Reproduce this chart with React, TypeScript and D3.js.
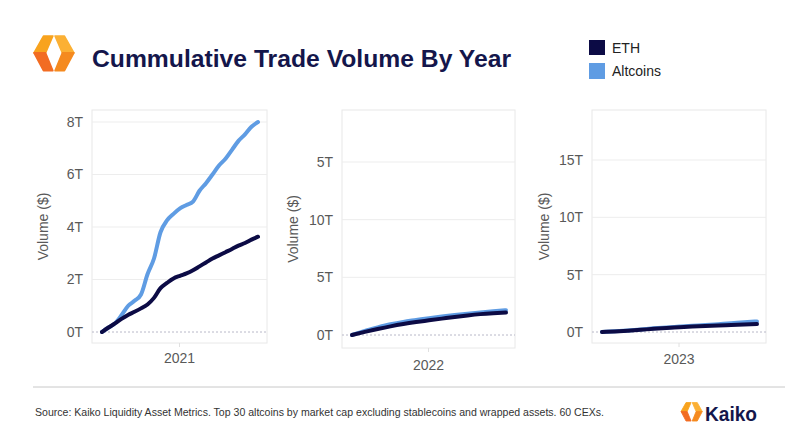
import React from "react";
import * as d3 from "d3";

// ---- Data (T = trillions USD, cumulative) ----
const years = ["2021", "2022", "2023"];
const seriesNames = ["ETH", "Altcoins"];

// 2021: semi-monthly samples
const alt2021 = [0, 0.17, 0.33, 0.64, 0.99, 1.19, 1.43, 2.2, 2.8, 3.8, 4.25, 4.5, 4.71, 4.84, 4.97, 5.38, 5.67, 6.0, 6.34, 6.6, 6.94, 7.28, 7.53, 7.82, 8.0];
const eth2021 = [0, 0.17, 0.33, 0.5, 0.65, 0.77, 0.9, 1.05, 1.3, 1.67, 1.87, 2.04, 2.14, 2.23, 2.35, 2.5, 2.65, 2.8, 2.92, 3.04, 3.16, 3.29, 3.39, 3.52, 3.63];
// 2022: monthly samples
const alt2022 = [0, 0.36, 0.66, 0.93, 1.14, 1.3, 1.46, 1.6, 1.73, 1.85, 1.96, 2.06, 2.15];
const eth2022 = [0, 0.27, 0.52, 0.75, 0.95, 1.12, 1.27, 1.42, 1.57, 1.7, 1.81, 1.89, 1.95];
// 2023: monthly samples
const alt2023 = [0, 0.06, 0.13, 0.22, 0.32, 0.4, 0.47, 0.54, 0.6, 0.68, 0.76, 0.85, 0.92];
const eth2023 = [0, 0.05, 0.11, 0.19, 0.28, 0.35, 0.41, 0.47, 0.52, 0.57, 0.61, 0.65, 0.7];

// tick values and labels per panel
const ticks2021 = [0, 2, 4, 6, 8];
const tickLabels2021 = ["0T", "2T", "4T", "6T", "8T"];
const ticks2022 = [0, 5, 10, 15];
const tickLabels2022 = ["0T", "5T", "10T", "5T"];
const ticks2023 = [0, 5, 10, 15];
const tickLabels2023 = ["0T", "5T", "10T", "15T"];

const title = "Cummulative Trade Volume By Year";
const source =
  "Source: Kaiko Liquidity Asset Metrics. Top 30 altcoins by market cap excluding stablecoins and wrapped assets. 60 CEXs.";

// ---- Styles ----
const ETH_COLOR = "#0c0b45";
const ALT_COLOR = "#5f9ce3";
const NAVY = "#14164b";
const FONT = "'Liberation Sans', Arial, Helvetica, sans-serif";

type PanelCfg = {
  year: string;
  eth: number[];
  alt: number[];
  ticks: number[];
  labels: string[];
  left: number;
  right: number;
  top: number;
  bottom: number;
  zeroY: number;
  topVal: number;
  topY: number;
  yLabelX: number;
  xLabelY: number;
};

const panels: PanelCfg[] = [
  { year: years[0], eth: eth2021, alt: alt2021, ticks: ticks2021, labels: tickLabels2021, left: 92, right: 267, top: 110, bottom: 343, zeroY: 332, topVal: 8, topY: 122, yLabelX: 48, xLabelY: 363 },
  { year: years[1], eth: eth2022, alt: alt2022, ticks: ticks2022, labels: tickLabels2022, left: 342, right: 515, top: 110, bottom: 348, zeroY: 335, topVal: 15, topY: 162, yLabelX: 298, xLabelY: 370 },
  { year: years[2], eth: eth2023, alt: alt2023, ticks: ticks2023, labels: tickLabels2023, left: 592, right: 766, top: 110, bottom: 343, zeroY: 332, topVal: 15, topY: 160, yLabelX: 549, xLabelY: 364 },
];

function Panel({ p }: { p: PanelCfg }) {
  const x = d3.scaleLinear().domain([0, p.eth.length - 1]).range([p.left + 10, p.right - 9]);
  const y = d3.scaleLinear().domain([0, p.topVal]).range([p.zeroY, p.topY]);
  const line = d3
    .line<number>()
    .x((_, i) => x(i))
    .y((d) => y(d))
    .curve(d3.curveMonotoneX);
  const midX = (p.left + p.right) / 2;
  const midY = (p.top + p.bottom) / 2;
  return (
    <g>
      <rect x={p.left} y={p.top} width={p.right - p.left} height={p.bottom - p.top} fill="#fff" stroke="#e8e8e8" strokeWidth={1} />
      {p.ticks.map((t, i) =>
        t === 0 ? null : (
          <line key={"g" + i} x1={p.left} x2={p.right} y1={y(t)} y2={y(t)} stroke="#ededed" strokeWidth={1} />
        )
      )}
      <line x1={p.left} x2={p.right} y1={y(0)} y2={y(0)} stroke="#b8b8c8" strokeWidth={1} strokeDasharray="2,2" />
      {p.ticks.map((t, i) => (
        <text key={"t" + i} x={p.left - 9} y={y(t)} dy="0.35em" textAnchor="end" fontSize={14} fill="#595959" fontFamily={FONT}>
          {p.labels[i]}
        </text>
      ))}
      <line x1={midX} x2={midX} y1={p.bottom} y2={p.bottom + 4} stroke="#e0e0e0" />
      <text x={midX} y={p.xLabelY} textAnchor="middle" fontSize={14} fill="#595959" fontFamily={FONT}>
        {p.year}
      </text>
      <text
        transform={`translate(${p.yLabelX},${midY}) rotate(-90)`}
        textAnchor="middle"
        fontSize={14}
        fill="#595959"
        fontFamily={FONT}
      >
        Volume ($)
      </text>
      <path d={line(p.alt) || ""} fill="none" stroke={ALT_COLOR} strokeWidth={4} strokeLinejoin="round" strokeLinecap="round" />
      <path d={line(p.eth) || ""} fill="none" stroke={ETH_COLOR} strokeWidth={4} strokeLinejoin="round" strokeLinecap="round" />
    </g>
  );
}

function Logo({ tx, ty, s }: { tx: number; ty: number; s: number }) {
  return (
    <g transform={`translate(${tx},${ty}) scale(${s})`} strokeLinejoin="round">
      <polygon points="0,17 11,17 18,1 9,1" fill="#f8a31e" stroke="#f8a31e" strokeWidth={1.5} />
      <polygon points="0,17 9,34 18,34 11,17" fill="#f26c22" stroke="#f26c22" strokeWidth={1.5} />
      <polygon points="38,17 27,17 20,1 29,1" fill="#fbb034" stroke="#fbb034" strokeWidth={1.5} />
      <polygon points="38,17 29,34 20,34 27,17" fill="#f58a1f" stroke="#f58a1f" strokeWidth={1.5} />
    </g>
  );
}

export default function App() {
  return (
    <svg width={800} height={436} style={{ display: "block", position: "absolute", left: 0, top: 0, background: "#fff" }}>
      <rect width={800} height={436} fill="#fff" />
      <Logo tx={34} ty={35} s={1.05} />
      <text x={92} y={67} fontSize={24} fontWeight="bold" fill={NAVY} fontFamily={FONT} textLength={419} lengthAdjust="spacingAndGlyphs">
        {title}
      </text>
      <rect x={589} y={40} width={16} height={15} fill={ETH_COLOR} />
      <text x={612} y={53} fontSize={14} fill="#222" fontFamily={FONT}>
        {seriesNames[0]}
      </text>
      <rect x={589} y={63} width={16} height={16} fill={ALT_COLOR} />
      <text x={612} y={76} fontSize={14} fill="#222" fontFamily={FONT}>
        {seriesNames[1]}
      </text>
      {panels.map((p) => (
        <Panel key={p.year} p={p} />
      ))}
      <line x1={33} x2={785} y1={387} y2={387} stroke="#c8c8c8" strokeWidth={1} />
      <text x={35} y={416} fontSize={11} fill="#333" fontFamily={FONT} textLength={569} lengthAdjust="spacingAndGlyphs">
        {source}
      </text>
      <Logo tx={681} ty={402} s={0.56} />
      <text x={705} y={421} fontSize={20} fontWeight="bold" fill={NAVY} fontFamily={FONT} textLength={52} lengthAdjust="spacingAndGlyphs">
        Kaiko
      </text>
    </svg>
  );
}
